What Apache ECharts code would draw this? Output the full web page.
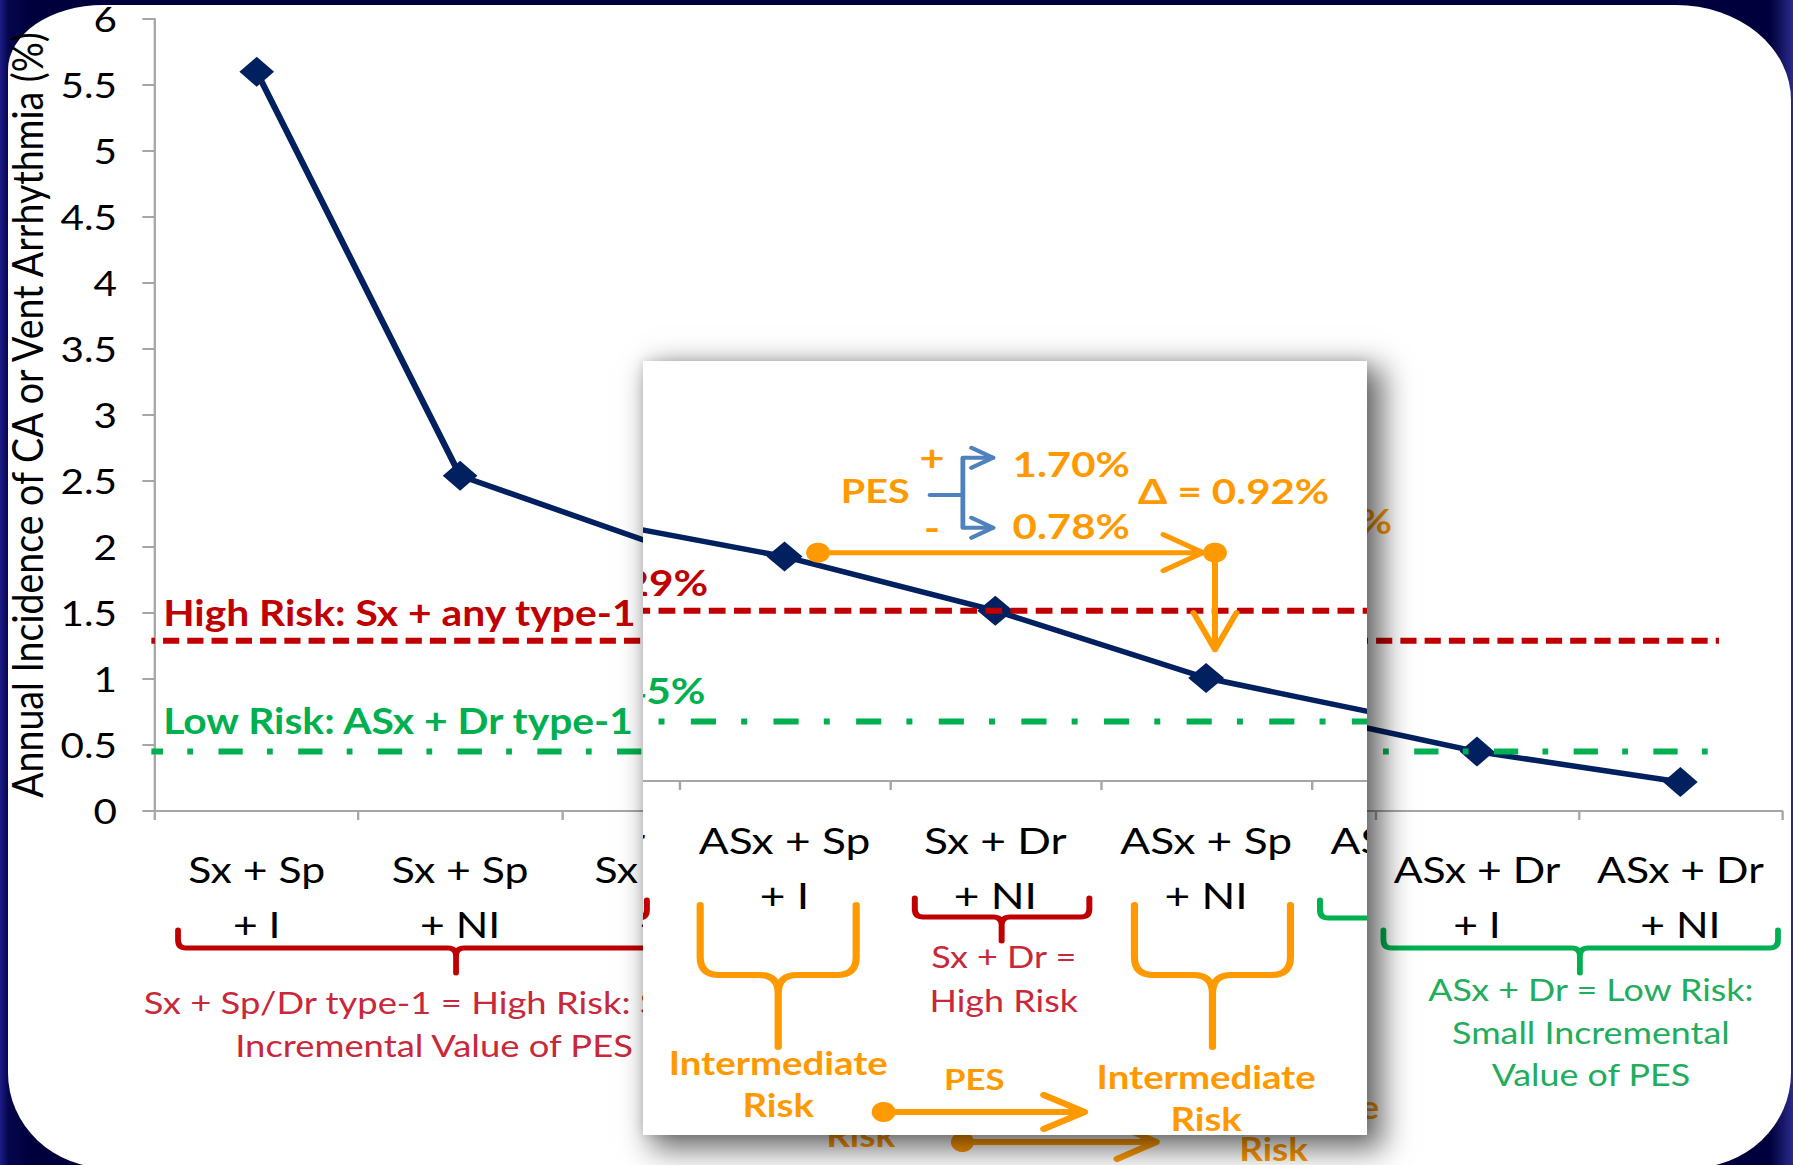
<!DOCTYPE html>
<html>
<head>
<meta charset="utf-8">
<title>Annual incidence of CA or ventricular arrhythmia by risk group</title>
<script src="https://cdn.jsdelivr.net/npm/echarts/dist/echarts.min.js"></script>
<style>
  html, body { margin:0; padding:0; width:1793px; height:1165px; overflow:hidden; background:#00003c; }
  #edge { position:absolute; left:0; top:0; width:1793px; height:1165px;
          background:linear-gradient(to right,#1c1c86 0,#06064f 8px,#00003c 30px,#00003c 1770px,#2a2a8a 1793px); }
  #panel { position:absolute; left:8px; top:5px; width:1783px; height:1163px; background:#fff;
           border-radius:95px 115px 100px 100px / 65px 95px 95px 95px; }
  .stage { position:absolute; left:0; top:0; width:1552px; height:1165px; transform-origin:0 0; }
  #main { transform:scaleX(1.1553); }
  #inset { position:absolute; left:643px; top:361px; width:724px; height:774px; background:#fff; overflow:hidden;
           box-shadow:12px 10px 28px 4px rgba(0,0,0,0.58), 0 0 10px rgba(0,0,0,0.12); }
  #insetChart { left:-757px; top:-390.7px; transform:scaleX(1.1975); }
</style>
</head>
<body>
<div id="edge"></div>
<div id="panel"></div>
<div id="main" class="stage"></div>
<div id="inset"><div id="insetChart" class="stage"></div></div>
<script>
// ---- data -------------------------------------------------------------
const categories = [
  'Sx + Sp\n+ I', 'Sx + Sp\n+ NI', 'Sx + Dr\n+ I', 'ASx + Sp\n+ I',
  'Sx + Dr\n+ NI', 'ASx + Sp\n+ NI', 'ASx + Dr\n+ I', 'ASx + Dr\n+ NI'
];
const incidence = [5.6, 2.54, 2.0, 1.70, 1.29, 0.78, 0.45, 0.22];   // % per year
const yRange = [0, 6];
const yStep = 0.5;
const highRiskLevel = 1.29;
const lowRiskLevel = 0.45;
const highRiskName = 'High Risk: Sx + any type-1';
const lowRiskName = 'Low Risk: ASx + Dr type-1';
const pesPosIndex = 3;   // ASx + Sp + I  (PES +)
const pesNegIndex = 5;   // ASx + Sp + NI (PES -)

// ---- look and layout of the annotations
// x in category-index units, y either in axis values (v) or in px below the category axis (d)
const FONT = 'Lato';
const BASE_SHIFT = 0.33;
const C = { navy:'#002060', red:'#c00000', redText:'#c8283a', green:'#00b050', greenText:'#22ad5c',
            orange:'#ff9900', blue:'#4f81bd', axis:'#a6a6a6', text:'#000' };
const L = {
  thresholdSpan: [-0.58, 7.19],
  thresholdTextX: -0.46,
  highTextGap: 17, lowTextGap: 20, thresholdFont: 35.3,
  braceHigh:   { xl:-0.387, xr:2.347, xt:0.98,  top:119, mid:137, bot:162 },
  braceDr:     { xl:3.618,  xr:4.446, xt:4.03,  top:117, mid:136, bot:160 },
  braceLow:    { xl:5.54,   xr:7.48,  xt:6.506, top:119, mid:137, bot:162 },
  braceMid1:   { xl:2.60,   xr:3.34,  xt:2.97,  top:124, mid:194, bot:266 },
  braceMid2:   { xl:4.66,   xr:5.40,  xt:5.03,  top:124, mid:194, bot:266 },
  highNote:    { x:0.872, lines:['Sx + Sp/Dr type-1 = High Risk: Small', 'Incremental Value of PES'], base:[201, 244], size:31.5 },
  drNote:      { x:4.04,  lines:['Sx + Dr =', 'High Risk'], base:[185, 229], size:30 },
  lowNote:     { x:6.56,  lines:['ASx + Dr = Low Risk:', 'Small Incremental', 'Value of PES'], base:[188, 231, 273], size:31 },
  mid1Note:    { x:2.97,  lines:['Intermediate', 'Risk'], base:[292, 334], size:32 },
  mid2Note:    { x:5.00,  lines:['Intermediate', 'Risk'], base:[306, 348], size:32 },
  lowArrow:    { x0:3.47, x1:4.423, d:331, label:'PES', labelX:3.90, labelBase:307, size:29 },
  pesLabel:    { x:3.43, v:2.116, size:33 },
  plusMinus:   { x:3.70, vPlus:2.456, vMinus:1.926, size:36 },
  bracket:     { x0:3.69, x1:3.846, tip:3.989, vMid:2.167, vTop:2.448, vBot:1.918 },
  resultText:  { x:4.36, vTop:2.320, vBot:1.851, size:35 },
  deltaText:   { x:5.13, v:2.116, size:35 },
  flowArrow:   { x0:3.159, x1:5.042, tipX:4.985, v:1.73, vEnd:0.995 }
};

// Two layers draw the same figure: the full slide and the enlarged call-out on top of it.
// Texts that a layer can never show (covered by the call-out, or outside its window) are left out.
const LAYERS = {
  main:  { hideCats:[3, 4, 5], hideNotes:['pes', 'plusMinus', 'results', 'drNote', 'mid1Top', 'lowArrowLabel'], yText:true },
  inset: { hideCats:[0, 1, 7], hideNotes:['highNote', 'lowNote'], yText:false }
};

function pct(v) { return v.toFixed(2) + '%'; }

function bracePath(X, Yd, b, rx, ry) {
  const xl = X(b.xl), xr = X(b.xr), xt = X(b.xt);
  const t = Yd(b.top), m = Yd(b.mid), bt = Yd(b.bot);
  return 'M' + xl + ' ' + t + ' L' + xl + ' ' + (m - ry) + ' Q' + xl + ' ' + m + ' ' + (xl + rx) + ' ' + m +
         ' L' + (xt - rx) + ' ' + m + ' Q' + xt + ' ' + m + ' ' + xt + ' ' + (m + ry) + ' L' + xt + ' ' + bt +
         ' M' + xt + ' ' + (m + ry) + ' Q' + xt + ' ' + m + ' ' + (xt + rx) + ' ' + m +
         ' L' + (xr - rx) + ' ' + m + ' Q' + xr + ' ' + m + ' ' + xr + ' ' + (m - ry) + ' L' + xr + ' ' + t;
}

function makeNotes(layer) {
  const hidden = new Set(layer.hideNotes);
  const on = key => !hidden.has(key);
  return function (params, api) {
    const X = x => api.coord([x, 0])[0];
    const Yv = v => api.coord([0, v])[1];
    const base = Yv(0);
    const Yd = d => base + d;
    const out = [];
    const textEl = (str, x, y, size, color, bold, align) => ({
      type:'text', x:x, y:y, z2:10,
      style:{ text:str, fontFamily:FONT, fontSize:size, lineHeight:Math.round(size), fontWeight:bold ? 'bold' : 'normal',
              fill:color, align:align || 'center', verticalAlign:'middle' }
    });
    const txt = (str, x, yBase, size, color, bold, align) =>
      out.push(textEl(str, x, yBase - BASE_SHIFT * size, size, color, bold, align));
    const stroke = (d, color, w) => out.push({ type:'path', shape:{ pathData:d },
      style:{ fill:'none', stroke:color, lineWidth:w, lineCap:'round', lineJoin:'round' } });
    const dot = (cx, cy, r, color) => out.push({ type:'circle', shape:{ cx:cx, cy:cy, r:r }, style:{ fill:color } });

    // threshold captions
    txt(highRiskName + ' = ' + pct(highRiskLevel), X(L.thresholdTextX), Yv(highRiskLevel) - L.highTextGap, L.thresholdFont, C.red, true, 'left');
    txt(lowRiskName + ' = ' + pct(lowRiskLevel), X(L.thresholdTextX), Yv(lowRiskLevel) - L.lowTextGap, L.thresholdFont, C.green, true, 'left');

    // braces below the category labels
    stroke(bracePath(X, Yd, L.braceHigh, 7, 8), C.red, 5);
    stroke(bracePath(X, Yd, L.braceDr, 7, 8), C.red, 5);
    stroke(bracePath(X, Yd, L.braceLow, 7, 8), C.green, 5);
    stroke(bracePath(X, Yd, L.braceMid1, 16, 18), C.orange, 6);
    stroke(bracePath(X, Yd, L.braceMid2, 16, 18), C.orange, 6);

    const block = (n, color, bold, skipFirst) => n.lines.forEach((s, i) => {
      if (!(skipFirst && i === 0)) txt(s, X(n.x), Yd(n.base[i]), n.size, color, bold);
    });
    if (on('highNote')) block(L.highNote, C.redText, false);
    if (on('drNote')) block(L.drNote, C.redText, false);
    if (on('lowNote')) block(L.lowNote, C.greenText, false);
    block(L.mid1Note, C.orange, true, !on('mid1Top'));
    block(L.mid2Note, C.orange, true);

    // PES step between the two intermediate groups
    const la = L.lowArrow;
    const ax0 = X(la.x0), ax1 = X(la.x1), ay = Yd(la.d);
    stroke('M' + ax0 + ' ' + ay + ' L' + ax1 + ' ' + ay + ' M' + (ax1 - 34) + ' ' + (ay - 17) + ' L' + ax1 + ' ' + ay + ' L' + (ax1 - 34) + ' ' + (ay + 17), C.orange, 6);
    dot(ax0, ay, 10, C.orange);
    if (on('lowArrowLabel')) txt(la.label, X(la.labelX), Yd(la.labelBase), la.size, C.orange, true);

    // PES result split: + / - bracket
    const pos = incidence[pesPosIndex], neg = incidence[pesNegIndex];
    if (on('pes')) txt('PES', X(L.pesLabel.x), Yv(L.pesLabel.v), L.pesLabel.size, C.orange, true);
    if (on('plusMinus')) {
      out.push(textEl('+', X(L.plusMinus.x), Yv(L.plusMinus.vPlus), L.plusMinus.size, C.orange, true));
      out.push(textEl('-', X(L.plusMinus.x), Yv(L.plusMinus.vMinus), L.plusMinus.size, C.orange, true));
    }
    const br = L.bracket;
    const bx0 = X(br.x0), bx1 = X(br.x1), btip = X(br.tip);
    const bym = Yv(br.vMid), byt = Yv(br.vTop), byb = Yv(br.vBot);
    stroke('M' + bx0 + ' ' + bym + ' L' + bx1 + ' ' + bym + ' M' + bx1 + ' ' + byt + ' L' + bx1 + ' ' + byb +
           ' M' + bx1 + ' ' + byt + ' L' + btip + ' ' + byt + ' M' + bx1 + ' ' + byb + ' L' + btip + ' ' + byb, C.blue, 4);
    [byt, byb].forEach(y => stroke('M' + (btip - 18) + ' ' + (y - 10) + ' L' + btip + ' ' + y + ' L' + (btip - 18) + ' ' + (y + 10), C.blue, 4));
    if (on('results')) {
      txt(pct(pos), X(L.resultText.x), Yv(L.resultText.vTop), L.resultText.size, C.orange, true);
      txt(pct(neg), X(L.resultText.x), Yv(L.resultText.vBot), L.resultText.size, C.orange, true);
    }
    txt('\u0394 = ' + pct(pos - neg), X(L.deltaText.x), Yv(L.deltaText.v), L.deltaText.size, C.orange, true);

    // arrow from the PES + level over to the PES - column, then down
    const fa = L.flowArrow;
    const fx0 = X(fa.x0), fx1 = X(fa.x1), ftip = X(fa.tipX), fy = Yv(fa.v), fyEnd = Yv(fa.vEnd);
    stroke('M' + fx0 + ' ' + fy + ' L' + ftip + ' ' + fy + ' M' + (ftip - 33) + ' ' + (fy - 18) + ' L' + ftip + ' ' + fy + ' L' + (ftip - 33) + ' ' + (fy + 18), C.orange, 5);
    stroke('M' + fx1 + ' ' + fy + ' L' + fx1 + ' ' + fyEnd + ' M' + (fx1 - 18) + ' ' + (fyEnd - 37) + ' L' + fx1 + ' ' + fyEnd + ' L' + (fx1 + 18) + ' ' + (fyEnd - 37), C.orange, 5);
    dot(fx0, fy, 10, C.orange);
    dot(fx1, fy, 10, C.orange);

    return { type:'group', children:out };
  };
}

function buildOption(layer) {
  const hideCats = new Set(layer.hideCats);
  return {
    animation:false,
    grid:{ left:134.2, right:9.5, top:19, bottom:354, containLabel:false, outerBoundsMode:'none' },
    xAxis:[
      { type:'category', data:categories, boundaryGap:true,
        axisLine:{ lineStyle:{ color:C.axis, width:2 } },
        axisTick:{ show:true, length:9, lineStyle:{ color:C.axis, width:2 } },
        axisLabel:{ color:C.text, fontFamily:FONT, fontSize:37, lineHeight:55, margin:31, interval:0,
                    formatter:(v, i) => hideCats.has(i) ? '' : v } },
      { type:'value', min:-0.5, max:7.5, show:false }
    ],
    yAxis:[
      { type:'value', min:yRange[0], max:yRange[1], interval:yStep,
        name:layer.yText ? 'Annual Incidence of CA or Vent Arrhythmia (%)' : '',
        nameLocation:'middle', nameGap:84, nameRotate:90,
        nameTextStyle:{ color:C.text, fontFamily:FONT, fontSize:37.5, lineHeight:38 },
        axisLine:{ show:true, onZero:false, lineStyle:{ color:C.axis, width:2 } },
        axisTick:{ show:true, length:11, lineStyle:{ color:C.axis, width:2 } },
        axisLabel:{ show:layer.yText, color:C.text, fontFamily:FONT, fontSize:35, lineHeight:30, margin:33 },
        splitLine:{ show:false } }
    ],
    series:[
      { type:'line', name:'Annual incidence', xAxisIndex:0, yAxisIndex:0, data:incidence,
        symbol:'diamond', symbolSize:30, itemStyle:{ color:C.navy }, lineStyle:{ color:C.navy, width:5.5 }, z:2 },
      { type:'line', name:highRiskName, xAxisIndex:1, yAxisIndex:0, symbol:'none', silent:true, z:3,
        data:[[L.thresholdSpan[0], highRiskLevel], [L.thresholdSpan[1], highRiskLevel]],
        lineStyle:{ color:C.red, width:6, type:[14, 7] } },
      { type:'line', name:lowRiskName, xAxisIndex:1, yAxisIndex:0, symbol:'none', silent:true, z:3,
        data:[[L.thresholdSpan[0], lowRiskLevel], [L.thresholdSpan[1], lowRiskLevel]],
        lineStyle:{ color:C.green, width:6, type:[21, 21, 5, 22] } },
      { type:'custom', name:'notes', xAxisIndex:1, yAxisIndex:0, data:[[0, 0]], clip:false, silent:true, z:4,
        renderItem:makeNotes(layer) }
    ]
  };
}

[['main', LAYERS.main], ['insetChart', LAYERS.inset]].forEach(([id, layer]) => {
  const chart = echarts.init(document.getElementById(id), null, { renderer:'svg', width:1552, height:1165 });
  chart.setOption(buildOption(layer));
});
</script>
</body>
</html>
